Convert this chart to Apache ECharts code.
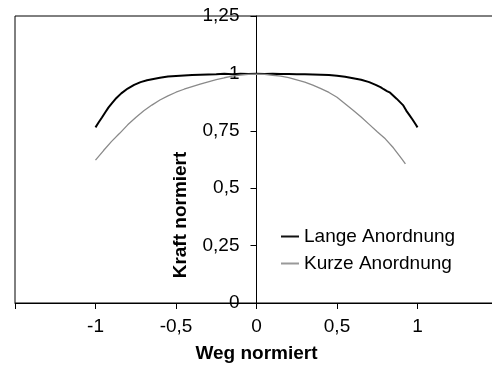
<!DOCTYPE html>
<html>
<head>
<meta charset="utf-8">
<script src="https://cdn.jsdelivr.net/npm/echarts@6/dist/echarts.min.js"></script>
<style>
  html, body { margin: 0; padding: 0; background: #fff; }
  #chart { width: 492px; height: 367px; }
</style>
</head>
<body>
<div id="chart"></div>
<script>
// Lange Anordnung (black)
var langeX = [-1, -0.98, -0.96, -0.94, -0.92, -0.9, -0.87, -0.84, -0.8, -0.76, -0.72, -0.68, -0.64, -0.6, -0.55, -0.5, -0.45, -0.4, -0.35, -0.3, -0.25, -0.2, -0.15, -0.1, -0.05, 0, 0.05, 0.1, 0.15, 0.2, 0.25, 0.3, 0.35, 0.4, 0.45, 0.5, 0.55, 0.6, 0.65, 0.7, 0.74, 0.77, 0.79, 0.81, 0.83, 0.85, 0.87, 0.89, 0.91, 0.93, 0.95, 0.97, 0.99, 1.0];
var langeY = [0.765, 0.787, 0.808, 0.830, 0.851, 0.868, 0.893, 0.913, 0.934, 0.950, 0.962, 0.970, 0.976, 0.981, 0.986, 0.989, 0.991, 0.993, 0.994, 0.995, 0.996, 0.998, 0.996, 0.999, 0.997, 0.998, 0.997, 0.998, 0.997, 0.997, 0.996, 0.996, 0.995, 0.994, 0.993, 0.990, 0.985, 0.979, 0.972, 0.962, 0.950, 0.940, 0.931, 0.923, 0.916, 0.903, 0.890, 0.876, 0.862, 0.838, 0.818, 0.798, 0.776, 0.765];

// Kurze Anordnung (grey)
var kurzeX = [-1, -0.95, -0.9, -0.85, -0.8, -0.75, -0.7, -0.65, -0.6, -0.55, -0.5, -0.45, -0.4, -0.35, -0.3, -0.25, -0.2, -0.15, -0.1, -0.05, 0, 0.05, 0.1, 0.15, 0.2, 0.25, 0.3, 0.35, 0.4, 0.45, 0.5, 0.55, 0.6, 0.65, 0.7, 0.75, 0.8, 0.85, 0.9, 0.925];
var kurzeY = [0.622, 0.664, 0.704, 0.739, 0.776, 0.808, 0.837, 0.862, 0.884, 0.902, 0.918, 0.931, 0.942, 0.953, 0.963, 0.973, 0.981, 0.988, 0.993, 0.996, 0.997, 0.996, 0.992, 0.988, 0.982, 0.972, 0.962, 0.949, 0.934, 0.917, 0.896, 0.868, 0.840, 0.810, 0.778, 0.746, 0.715, 0.676, 0.630, 0.606];

var seriesNames = ['Lange Anordnung', 'Kurze Anordnung'];

function pairs(xs, ys) {
  var out = [];
  for (var i = 0; i < xs.length; i++) out.push([xs[i], ys[i]]);
  return out;
}
function comma(v) {
  return String(v).replace('.', ',');
}

var font = 'Liberation Sans, Arial, sans-serif';
var myChart = echarts.init(document.getElementById('chart'));
var option = {
  animation: false,
  backgroundColor: '#fff',
  textStyle: { fontFamily: font },
  grid: {
    left: 15, top: 16, right: -6, bottom: 64,
    outerBoundsMode: 'none',
    containLabel: false,
    show: true, borderColor: '#000', borderWidth: 1
  },
  legend: {
    orient: 'vertical',
    left: 276, top: 222,
    icon: 'rect',
    itemWidth: 18, itemHeight: 2, itemGap: 8,
    textStyle: { fontSize: 19, lineHeight: 19, color: '#000', fontFamily: font },
    data: seriesNames
  },
  xAxis: {
    type: 'value',
    min: -1.5, max: 1.5, interval: 0.5,
    name: 'Weg normiert',
    nameLocation: 'middle',
    nameGap: 41,
    nameTextStyle: { fontSize: 19, fontWeight: 'bold', color: '#000', fontFamily: font },
    axisLine: { onZero: false, lineStyle: { color: '#000', width: 1 } },
    axisTick: { inside: false, length: 6, lineStyle: { color: '#000' } },
    axisLabel: {
      fontSize: 19, color: '#000', margin: 14, fontFamily: font,
      formatter: function (v) { return Math.abs(v) === 1.5 ? '' : comma(v); }
    },
    splitLine: { show: false }
  },
  yAxis: {
    type: 'value',
    position: 'left',
    offset: -241.5,
    min: 0, max: 1.25, interval: 0.25,
    axisLine: { show: true, onZero: false, lineStyle: { color: '#000', width: 1 } },
    axisTick: { show: true, inside: false, length: 6, lineStyle: { color: '#000' } },
    axisLabel: {
      show: true,
      fontSize: 19, color: '#000', margin: 17, fontFamily: font,
      formatter: function (v) { return comma(v); }
    },
    splitLine: { show: false }
  },
  graphic: [{
    type: 'text',
    x: 181, y: 215,
    rotation: Math.PI / 2,
    style: {
      text: 'Kraft normiert',
      fontSize: 19, fontWeight: 'bold', fontFamily: font,
      fill: '#000', align: 'center', verticalAlign: 'middle'
    }
  }],
  series: [
    {
      name: seriesNames[0],
      type: 'line',
      data: pairs(langeX, langeY),
      symbol: 'none',
      color: '#111',
      lineStyle: { color: '#000', width: 2 }
    },
    {
      name: seriesNames[1],
      type: 'line',
      data: pairs(kurzeX, kurzeY),
      symbol: 'none',
      color: '#999',
      lineStyle: { color: '#8a8a8a', width: 1.3 }
    }
  ]
};
myChart.setOption(option);
</script>
</body>
</html>
